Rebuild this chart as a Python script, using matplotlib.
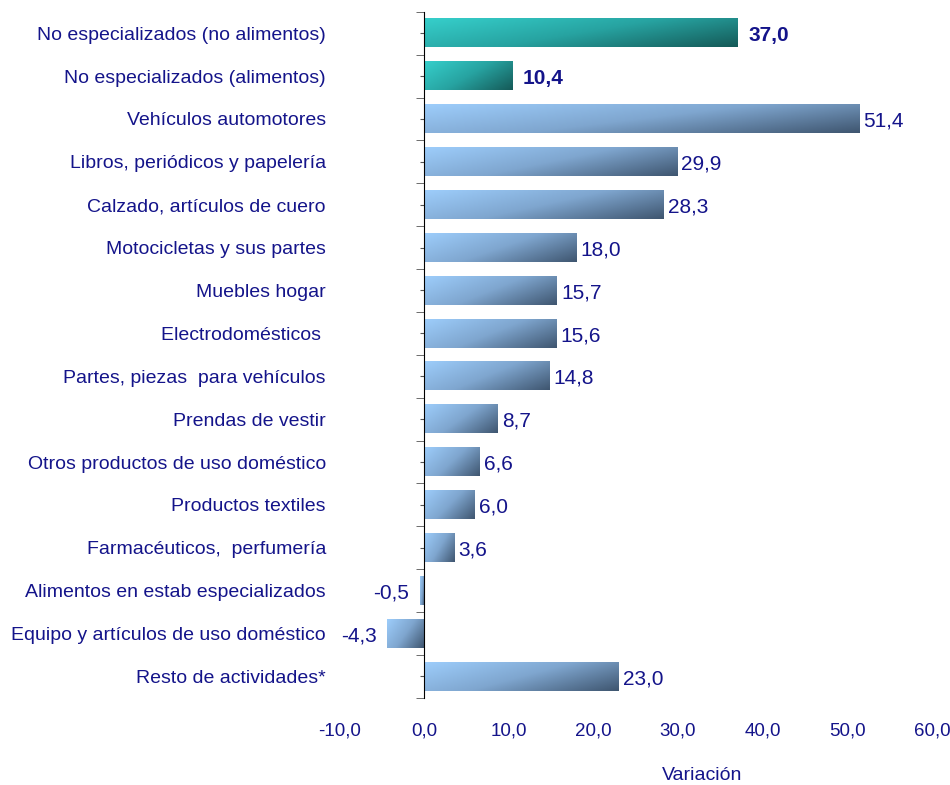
import numpy as np
import matplotlib
matplotlib.use("Agg")
import matplotlib.pyplot as plt
from matplotlib.colors import LinearSegmentedColormap

categories = [
    "No especializados (no alimentos)",
    "No especializados (alimentos)",
    "Vehículos automotores",
    "Libros, periódicos y papelería",
    "Calzado, artículos de cuero",
    "Motocicletas y sus partes",
    "Muebles hogar",
    "Electrodomésticos ",
    "Partes, piezas  para vehículos",
    "Prendas de vestir",
    "Otros productos de uso doméstico",
    "Productos textiles",
    "Farmacéuticos,  perfumería",
    "Alimentos en estab especializados",
    "Equipo y artículos de uso doméstico",
    "Resto de actividades*",
]
values = [37.0, 10.4, 51.4, 29.9, 28.3, 18.0, 15.7, 15.6, 14.8, 8.7, 6.6, 6.0, 3.6, -0.5, -4.3, 23.0]
highlight = [True, True] + [False] * 14
xticks = [-10, 0, 10, 20, 30, 40, 50, 60]

navy = "#14148a"
plt.rcParams['font.family'] = ['Liberation Sans', 'DejaVu Sans']

blue_cmap = LinearSegmentedColormap.from_list("blue", ["#9dcdfb", "#7fa6cf", "#3f5670"])
teal_cmap = LinearSegmentedColormap.from_list("teal", ["#36cfcb", "#27a3a1", "#155a58"])

fig = plt.figure(figsize=(9.5, 7.85), dpi=100)
ax = fig.add_axes([0.357, 0.111, 0.624, 0.874])

# diagonal gradient: light top-left, dark bottom-right
u = np.linspace(0, 1, 200)[None, :]
v = np.linspace(0, 1, 40)[:, None]
grad = 0.65 * u + 0.35 * v

h = 0.66
for i, (val, hl) in enumerate(zip(values, highlight)):
    cmap = teal_cmap if hl else blue_cmap
    x0, x1 = min(0, val), max(0, val)
    ax.imshow(grad, cmap=cmap, aspect='auto', interpolation='bilinear',
              extent=[x0, x1, i + h / 2, i - h / 2], zorder=2)
    label = f"{val:.1f}".replace(".", ",")
    if val >= 0:
        pad = 1.3 if hl else 0.5
        ax.text(val + pad, i + 0.05, label, ha='left', va='center', color=navy,
                fontsize=15, fontweight='bold' if hl else 'normal')
    else:
        ax.text(val - 1.3, i + 0.05, label, ha='right', va='center', color=navy,
                fontsize=15)

ax.set_xlim(-10, 60)
ax.set_ylim(len(values) - 0.5, -0.5)

ax.set_yticks(range(len(categories)))
ax.set_yticks(np.arange(-0.5, len(categories)), minor=True)
ax.tick_params(axis='y', which='major', length=3, pad=67.5, color='#555555',
               labelcolor=navy, labelsize=14)
ax.tick_params(axis='y', which='minor', length=6, color='#555555')
ax.set_yticklabels(categories)

ax.set_xticks(xticks)
ax.tick_params(axis='x', length=0, pad=18, labelcolor=navy, labelsize=13.5)
ax.set_xticklabels([f"{t:.1f}".replace(".", ",") for t in xticks])

ax.spines['left'].set_position(('data', 0))
ax.spines['left'].set_color('black')
for s in ['top', 'right', 'bottom']:
    ax.spines[s].set_visible(False)

fig.text(702 / 950, 1 - 775 / 785, "Variación", ha='center', va='center',
         color=navy, fontsize=14)

fig.savefig("out.png", dpi=100, facecolor='white')
